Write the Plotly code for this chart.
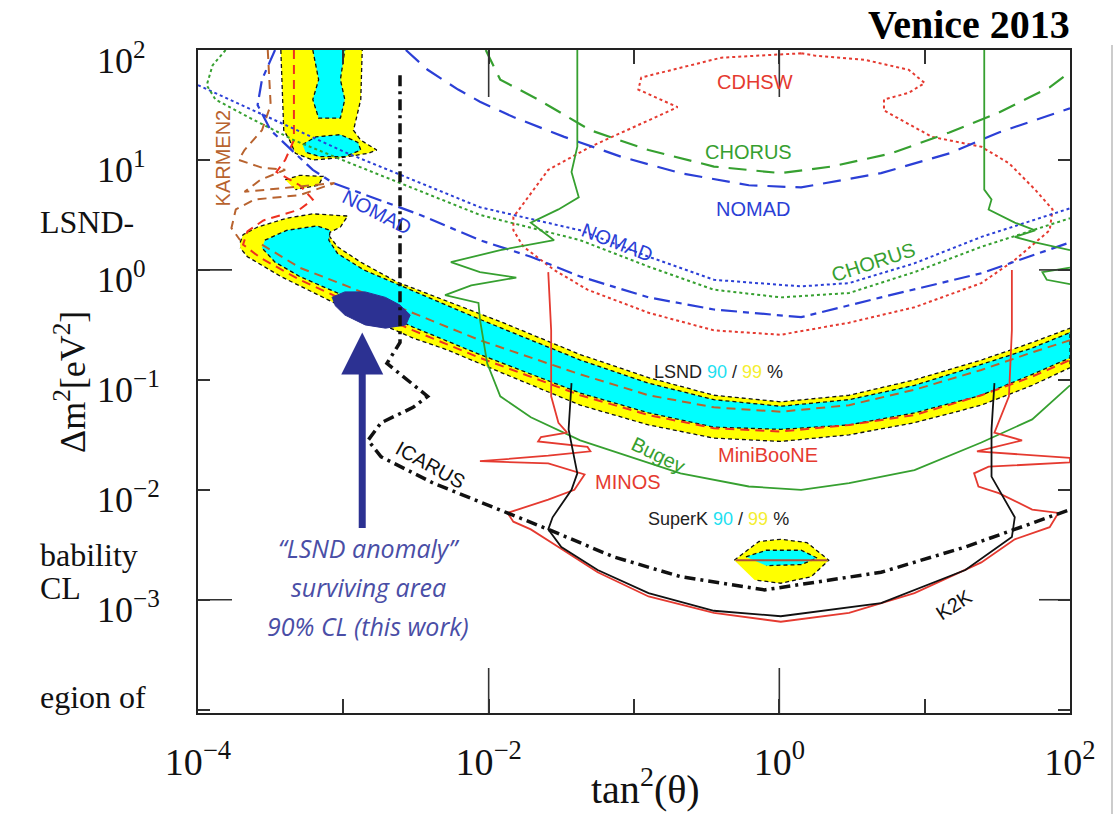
import numpy as np
import plotly.graph_objects as go

# ------------------------------------------------------------------
# Values: log10(tan^2 theta), log10(dm^2 / eV^2)
# ------------------------------------------------------------------
CDHSW_LX = [0.15, -0.40, -0.95, -0.97, -0.70, -1.30, -1.59, -1.83, -1.83, -1.76, -1.55, -1.32, -0.90, -0.45, 0.01,
            0.48, 0.93, 1.39, 1.62, 1.86, 1.88, 1.76, 1.58, 1.39, 1.05, 0.72, 0.72, 0.89, 1.00, 0.89, 0.59, 0.24, 0.15]
CDHSW_LY = [1.97, 1.93, 1.75, 1.64, 1.48, 1.12, 0.91, 0.48, 0.36, 0.21, 0.00, -0.18, -0.39, -0.55, -0.59,
            -0.48, -0.34, -0.12, 0.09, 0.36, 0.55, 0.73, 0.97, 1.12, 1.21, 1.45, 1.55, 1.61, 1.70, 1.82, 1.91, 1.95, 1.97]

CHORUS_DASH_LX = [-2.02, -1.92, -1.66, -1.30, -0.90, -0.45, 0.01, 0.36, 0.77, 1.17, 1.51, 1.86, 2.00]
CHORUS_DASH_LY = [2.00, 1.73, 1.55, 1.27, 1.09, 0.94, 0.88, 0.94, 1.06, 1.25, 1.43, 1.66, 1.80]

NOMAD_DASH_LX = [-2.57, -2.42, -2.21, -2.06, -1.83, -1.48, -1.09, -0.68, -0.21, 0.15, 0.70, 1.17, 1.51, 2.00]
NOMAD_DASH_LY = [2.00, 1.82, 1.64, 1.53, 1.39, 1.21, 1.03, 0.88, 0.77, 0.75, 0.88, 1.06, 1.25, 1.47]

NOMAD_DOT_LX = [-4.00, -2.97, -2.06, -1.37, -0.90, -0.45, 0.15, 0.48, 0.93, 1.39, 2.00]
NOMAD_DOT_LY = [1.68, 1.06, 0.57, 0.36, 0.12, -0.09, -0.15, -0.12, 0.06, 0.30, 0.56]

CHORUS_DOT_LX = [-3.81, -3.90, -3.94, -3.88, -3.64, -3.34, -2.97, -2.06, -1.37, -0.90, -0.45, 0.01, 0.48, 0.93, 1.39, 2.00]
CHORUS_DOT_LY = [2.00, 1.86, 1.68, 1.55, 1.38, 1.18, 0.98, 0.50, 0.27, 0.03, -0.18, -0.25, -0.21, -0.02, 0.21, 0.47]

NOMAD_DD_LX = [-3.47, -3.56, -3.59, -3.50, -3.34, -3.21, -3.07, -2.47, -2.06, -1.71, -1.37, -0.90, -0.45, 0.15, 0.70, 1.39, 2.00]
NOMAD_DD_LY = [2.00, 1.73, 1.50, 1.27, 1.07, 0.91, 0.79, 0.50, 0.27, 0.12, -0.06, -0.25, -0.36, -0.43, -0.25, -0.03, 0.25]

BUGEY_LX = [-1.39, -1.39, -1.43, -1.38, -1.52, -1.71, -1.55, -1.92, -2.26, -2.06, -1.81, -2.12, -2.30, -2.07, -2.06,
            -2.03, -2.01, -1.92, -1.71, -1.37, -1.02, -0.68, -0.21, 0.15, 0.48, 0.93, 1.39, 1.74, 2.00]
BUGEY_LY = [2.00, 1.12, 0.89, 0.66, 0.55, 0.43, 0.27, 0.18, 0.07, -0.02, -0.07, -0.14, -0.23, -0.30, -0.45,
            -0.68, -0.85, -1.15, -1.34, -1.55, -1.70, -1.85, -1.97, -2.00, -1.94, -1.82, -1.57, -1.36, -1.05]
BUGEY_R_LX = [1.41, 1.41, 1.41, 1.46, 1.44, 1.62, 1.76, 1.62, 1.76, 2.00]
BUGEY_R_LY = [2.00, 1.12, 0.73, 0.64, 0.55, 0.43, 0.36, 0.30, 0.25, 0.18]
BUGEY_E_LX = [2.00, 1.81, 1.84, 2.00]
BUGEY_E_LY = [0.02, -0.02, -0.09, -0.13]

MINOS_LX = [-1.59, -1.57, -1.57, -1.52, -1.46, -1.64, -1.66, -1.32, -1.30, -1.59, -2.06, -1.59, -1.34, -1.41,
            -1.59, -1.87, -1.83, -1.71, -1.52, -1.25, -0.90, -0.45, 0.01, 0.48, 0.93, 1.39, 1.62, 1.86, 1.92,
            1.74, 1.51, 1.37, 1.34, 1.44, 2.00, 2.00, 1.36, 1.67, 1.48, 1.58, 1.60, 1.60]
MINOS_LY = [-0.02, -0.55, -1.15, -1.39, -1.48, -1.52, -1.56, -1.61, -1.65, -1.69, -1.74, -1.76, -1.86, -2.00,
            -2.09, -2.21, -2.29, -2.36, -2.52, -2.75, -2.97, -3.12, -3.20, -3.12, -2.94, -2.66, -2.45, -2.34, -2.21,
            -2.18, -2.03, -1.97, -1.85, -1.79, -1.75, -1.71, -1.65, -1.55, -1.48, -1.15, -0.55, 0.00]

K2K_LX = [-1.43, -1.45, -1.39, -1.43, -1.56, -1.59, -1.50, -1.25, -0.90, -0.45, 0.01, 0.70, 1.28, 1.60, 1.62, 1.46, 1.46, 1.48]
K2K_LY = [-1.03, -1.45, -1.85, -2.00, -2.25, -2.36, -2.52, -2.73, -2.94, -3.10, -3.15, -3.03, -2.73, -2.43, -2.25, -1.88, -1.45, -1.03]

ICARUS_LX = [-2.61, -2.61, -2.70, -2.42, -2.52, -2.74, -2.83, -2.74, -2.38, -1.92, -1.59, -1.14, -0.68, -0.10, 0.70, 1.28, 1.62, 2.00]
ICARUS_LY = [1.77, -0.66, -0.85, -1.15, -1.25, -1.39, -1.55, -1.70, -1.94, -2.18, -2.36, -2.61, -2.79, -2.91, -2.75, -2.52, -2.36, -2.18]

KARMEN_LX = [-3.52, -3.50, -3.56, -3.68, -3.72, -3.56, -3.40, -3.57, -3.68, -3.37, -3.06, -3.30, -3.61, -3.74, -3.77, -3.71]
KARMEN_LY = [2.00, 1.50, 1.27, 1.09, 1.00, 0.93, 0.91, 0.82, 0.71, 0.75, 0.79, 0.68, 0.64, 0.55, 0.38, 0.27]

BAND_MID_LX = [-3.56, -3.30, -2.97, -2.52, -2.06, -1.37, -0.90, -0.45, 0.01, 0.48, 0.93, 1.39, 1.74, 2.00]
BAND_MID_LY = [0.23, 0.02, -0.15, -0.39, -0.64, -0.95, -1.14, -1.25, -1.29, -1.23, -1.09, -0.91, -0.75, -0.64]

RED_DASH_LX = [-3.34, -3.34, -3.40, -3.46, -3.30, -3.21, -3.30, -3.55, -3.66, -3.69, -3.57, -3.30, -2.97, -2.52,
               -2.06, -1.37, -0.90, -0.45, 0.01, 0.48, 0.93, 1.39, 1.74, 2.00]
RED_DASH_LY = [2.00, 1.18, 1.00, 0.89, 0.77, 0.64, 0.55, 0.45, 0.35, 0.23, 0.11, -0.09, -0.29, -0.55,
               -0.80, -1.14, -1.32, -1.44, -1.47, -1.41, -1.32, -1.14, -0.97, -0.82]

LSND99_LX = [-3.71, -3.69, -3.59, -3.39, -3.21, -2.97, -3.02, -3.11, -3.04, -2.88, -2.63, -2.28, -1.92, -1.37, -0.90,
             -0.45, 0.01, 0.48, 0.93, 1.39, 1.74, 2.00, 2.00, 1.74, 1.39, 0.93, 0.48, 0.01, -0.45, -0.90, -1.37,
             -1.92, -2.28, -2.52, -2.97, -3.43, -3.66, -3.71]
LSND99_LY = [0.25, 0.32, 0.39, 0.47, 0.51, 0.49, 0.39, 0.33, 0.21, 0.07, -0.11, -0.29, -0.47, -0.77, -0.98,
             -1.14, -1.20, -1.14, -1.00, -0.82, -0.66, -0.53, -0.89, -1.05, -1.23, -1.39, -1.50, -1.56, -1.53, -1.41,
             -1.23, -0.93, -0.73, -0.62, -0.36, -0.06, 0.12, 0.20]
LSND90_LX = [-3.54, -3.39, -3.18, -3.09, -3.10, -3.04, -2.86, -2.59, -2.06, -1.37, -0.90, -0.45, 0.01, 0.48, 0.93,
             1.39, 1.74, 2.00, 2.00, 1.74, 1.39, 0.93, 0.48, 0.01, -0.45, -0.90, -1.37, -2.06, -2.52, -2.97, -3.30,
             -3.47, -3.56]
LSND90_LY = [0.27, 0.36, 0.40, 0.36, 0.27, 0.15, 0.00, -0.15, -0.45, -0.82, -1.03, -1.18, -1.24, -1.18, -1.05,
             -0.86, -0.71, -0.57, -0.80, -0.95, -1.14, -1.30, -1.41, -1.45, -1.43, -1.30, -1.12, -0.77, -0.52, -0.25,
             -0.06, 0.07, 0.20]
ISL99_LX = [-3.43, -3.41, -3.37, -3.33, -3.21, -3.02, -2.83, -2.77, -2.88, -2.93, -2.88, -2.87]
ISL99_LY = [2.00, 1.27, 1.18, 1.06, 1.00, 1.02, 1.06, 1.09, 1.18, 1.27, 1.55, 2.00]
ISL90A_LX = [-3.21, -3.17, -3.21, -3.17, -3.02, -2.99, -3.02, -2.99]
ISL90A_LY = [2.00, 1.73, 1.55, 1.38, 1.38, 1.55, 1.73, 2.00]
ISL90B_LX = [-3.28, -3.19, -3.02, -2.90, -2.88, -2.99, -3.16, -3.26]
ISL90B_LY = [1.14, 1.21, 1.23, 1.16, 1.09, 1.03, 1.03, 1.07]
ISL99C_LX = [-3.40, -3.30, -3.14, -3.17, -3.33]
ISL99C_LY = [0.82, 0.86, 0.85, 0.77, 0.73]

SK99_LX = [-0.31, -0.14, 0.01, 0.19, 0.34, 0.22, 0.01, -0.17]
SK99_LY = [-2.64, -2.47, -2.45, -2.48, -2.64, -2.79, -2.85, -2.82]
SK90_LX = [-0.23, -0.09, 0.15, 0.26, 0.15, -0.09]
SK90_LY = [-2.61, -2.55, -2.55, -2.62, -2.68, -2.69]
SK_MID_LX = [-0.30, 0.33]
SK_MID_LY = [-2.64, -2.64]

SURVIVE_LX = [-3.08, -2.99, -2.85, -2.71, -2.61, -2.54, -2.57, -2.71, -2.85, -2.99, -3.06]
SURVIVE_LY = [-0.25, -0.20, -0.20, -0.25, -0.32, -0.41, -0.50, -0.53, -0.50, -0.41, -0.32]

ARROW_LX = -2.87
ARROW_TIP_LY = -0.57
ARROW_TAIL_LY = -2.36

# labels: text, log x, log y, colour key, angle
LABELS = [
    ("CDHSW", -0.17, 1.71, "red", 0),
    ("CHORUS", -0.21, 1.07, "green", 0),
    ("NOMAD", -0.18, 0.55, "blue", 0),
    ("NOMAD", -1.12, 0.25, "blue", 21),
    ("NOMAD", -2.77, 0.53, "blue", 27),
    ("CHORUS", 0.65, 0.07, "green", -18),
    ("KARMEN2", -3.83, 1.02, "brown", -90),
    ("Bugey", -0.83, -1.68, "green", 26),
    ("MiniBooNE", -0.08, -1.68, "red", 0),
    ("MINOS", -1.04, -1.93, "red", 0),
    ("K2K", 1.20, -3.05, "black", -33),
    ("ICARUS", -2.40, -1.77, "black", 29),
]
LSND_LABEL_POS = (-0.42, -0.93)
SK_LABEL_POS = (-0.42, -2.27)
ANOMALY_LINES = ["\u201cLSND anomaly\u201d", "surviving area", "90% CL (this work)"]
ANOMALY_LX = -2.83
ANOMALY_LY = [-2.53, -2.88, -3.24]

X_TICK_EXP = [-4, -3, -2, -1, 0, 1, 2]
X_LABEL_EXP = [-4, -2, 0, 2]
Y_TICK_EXP = [-4, -3, -2, -1, 0, 1, 2]
Y_LABEL_EXP = [-3, -2, -1, 0, 1, 2]
X_LONG = [-2, 0]
Y_LONG = [-3, 0]
X_RANGE = [-4.0, 2.0]
Y_RANGE = [-4.03, 2.0]

SLIDE_TEXT = [("LSND-", 222), ("bability", 555), ("CL", 588), ("egion of", 697)]

COL = {"red": "#e53a30", "green": "#36a030", "blue": "#2b3fd6", "brown": "#b8632f", "black": "#111111"}
YELLOW = "#ffff00"
CYAN = "#00ffff"
NAVY = "#2c3192"

W, H = 1118, 814
ML, MR, MT, MB = 198, 48, 50, 101
PW, PH = W - ML - MR, H - MT - MB


def pw(a):
    return np.power(10.0, np.asarray(a, dtype=float))


fig = go.Figure()


def add_area(lx, ly, fill, dash="4px,3px", lw=1.3, lc="#111111"):
    fig.add_trace(go.Scatter(x=pw(lx), y=pw(ly), mode="lines", fill="toself", fillcolor=fill,
                             line=dict(color=lc, width=lw, dash=dash), hoverinfo="skip", showlegend=False))


def add_line(lx, ly, color, width, dash="solid"):
    fig.add_trace(go.Scatter(x=pw(lx), y=pw(ly), mode="lines",
                             line=dict(color=color, width=width, dash=dash), hoverinfo="skip", showlegend=False))


# LSND allowed regions
add_area(LSND99_LX, LSND99_LY, YELLOW)
add_area(LSND90_LX, LSND90_LY, CYAN)
add_area(ISL99_LX, ISL99_LY, YELLOW)
add_area(ISL90A_LX, ISL90A_LY, CYAN)
add_area(ISL90B_LX, ISL90B_LY, CYAN)
add_area(ISL99C_LX, ISL99C_LY, YELLOW)
add_area(SK99_LX, SK99_LY, YELLOW)
add_area(SK90_LX, SK90_LY, CYAN)
add_line(SK_MID_LX, SK_MID_LY, "#b0503a", 2)
add_line(BAND_MID_LX, BAND_MID_LY, COL["brown"], 2, "9px,6px")
add_line(RED_DASH_LX, RED_DASH_LY, "#ee3020", 2, "9px,6px")
add_line(KARMEN_LX, KARMEN_LY, COL["brown"], 2, "9px,6px")

# exclusion curves
add_line(CDHSW_LX, CDHSW_LY, COL["red"], 2, "dot")
add_line(CHORUS_DASH_LX, CHORUS_DASH_LY, COL["green"], 2.2, "18px,10px")
add_line(NOMAD_DASH_LX, NOMAD_DASH_LY, COL["blue"], 2.2, "18px,10px")
add_line(NOMAD_DOT_LX, NOMAD_DOT_LY, COL["blue"], 2, "dot")
add_line(CHORUS_DOT_LX, CHORUS_DOT_LY, COL["green"], 2, "dot")
add_line(NOMAD_DD_LX, NOMAD_DD_LY, COL["blue"], 2.2, "16px,6px,6px,6px")
add_line(BUGEY_LX, BUGEY_LY, COL["green"], 1.8)
add_line(BUGEY_R_LX, BUGEY_R_LY, COL["green"], 1.8)
add_line(BUGEY_E_LX, BUGEY_E_LY, COL["green"], 1.8)
add_line(MINOS_LX, MINOS_LY, COL["red"], 1.8)
add_line(K2K_LX, K2K_LY, "#111111", 1.8)

# surviving area
fig.add_trace(go.Scatter(x=pw(SURVIVE_LX), y=pw(SURVIVE_LY), mode="lines", fill="toself", fillcolor=NAVY,
                         line=dict(color=NAVY, width=1), hoverinfo="skip", showlegend=False))
add_line(ICARUS_LX, ICARUS_LY, "#111111", 3.5, "11px,5px,3px,5px")

ann = []
for text, lx, ly, ck, ang in LABELS:
    ann.append(dict(x=lx, y=ly, xref="x", yref="y", text=text, showarrow=False, textangle=ang,
                    font=dict(family="Liberation Sans, Arial", size=20, color=COL[ck]),
                    xanchor="center", yanchor="middle"))

ann.append(dict(x=LSND_LABEL_POS[0], y=LSND_LABEL_POS[1], xref="x", yref="y", showarrow=False,
                xanchor="center", yanchor="middle",
                text='LSND <span style="color:#22e0f0">90</span> / <span style="color:#f4ee30">99</span> %',
                font=dict(family="Liberation Sans, Arial", size=18, color="#222222")))
ann.append(dict(x=SK_LABEL_POS[0], y=SK_LABEL_POS[1], xref="x", yref="y", showarrow=False,
                xanchor="center", yanchor="middle",
                text='SuperK <span style="color:#22e0f0">90</span> / <span style="color:#f4ee30">99</span> %',
                font=dict(family="Liberation Sans, Arial", size=18, color="#222222")))

for line, ly in zip(ANOMALY_LINES, ANOMALY_LY):
    ann.append(dict(x=ANOMALY_LX, y=ly, xref="x", yref="y", showarrow=False, text="<i>" + line + "</i>",
                    xanchor="center", yanchor="middle",
                    font=dict(family="Open Sans", size=25, color="#4a4ea6")))

# arrow
ann.append(dict(x=ARROW_LX, y=ARROW_TIP_LY, xref="x", yref="y", ax=ARROW_LX, ay=ARROW_TAIL_LY,
                axref="x", ayref="y", showarrow=True, arrowhead=2, arrowsize=1.2, arrowwidth=7,
                arrowcolor=NAVY, text="", standoff=0))

# y tick labels (left aligned)
for k in Y_LABEL_EXP:
    s = str(k).replace("-", "\u2212")
    ann.append(dict(x=(95 - ML) / PW, y=k, xref="paper", yref="y", xanchor="left", yanchor="middle",
                    yshift=-8, showarrow=False, text="10<sup>%s</sup>" % s,
                    font=dict(family="Liberation Serif", size=36, color="#111111")))

# axis titles and title
ann.append(dict(x=(70 - ML) / PW, y=(H - MB - 382) / PH, xref="paper", yref="paper", showarrow=False,
                textangle=-90, xanchor="center", yanchor="middle",
                text="\u0394m<sup>2</sup>[eV<sup>2</sup>]",
                font=dict(family="Liberation Serif", size=36, color="#111111")))
ann.append(dict(x=(645 - ML) / PW, y=-(786 - (H - MB)) / PH, xref="paper", yref="paper", showarrow=False,
                text="tan<sup>2</sup>(\u03b8)", xanchor="center", yanchor="middle",
                font=dict(family="Liberation Serif", size=40, color="#111111")))
ann.append(dict(x=(1072 - ML) / PW, y=1 + (MT - 25) / PH, xref="paper", yref="paper", showarrow=False,
                xanchor="right", yanchor="middle", text="<b>Venice 2013</b>",
                font=dict(family="Liberation Serif", size=40, color="#000000")))

for t, py in SLIDE_TEXT:
    ann.append(dict(x=(38 - ML) / PW, y=(H - MB - py) / PH, xref="paper", yref="paper", showarrow=False,
                    xanchor="left", yanchor="middle", text=t,
                    font=dict(family="Liberation Serif", size=32, color="#111111")))

shapes = []
xr = X_RANGE[1] - X_RANGE[0]
yr = Y_RANGE[1] - Y_RANGE[0]
for k in X_LONG:
    px = (k - X_RANGE[0]) / xr
    shapes.append(dict(type="line", xref="paper", yref="paper", x0=px, x1=px, y0=0, y1=45 / PH,
                       line=dict(color="#333333", width=1.6)))
    shapes.append(dict(type="line", xref="paper", yref="paper", x0=px, x1=px, y0=1, y1=1 - 47 / PH,
                       line=dict(color="#333333", width=1.6)))
for k in Y_LONG:
    py = (k - Y_RANGE[0]) / yr
    shapes.append(dict(type="line", xref="paper", yref="paper", x0=0, x1=34 / PW, y0=py, y1=py,
                       line=dict(color="#333333", width=1.6)))
    shapes.append(dict(type="line", xref="paper", yref="paper", x0=1, x1=1 - 31 / PW, y0=py, y1=py,
                       line=dict(color="#333333", width=1.6)))
shapes.append(dict(type="line", xref="paper", yref="paper", x0=(1112 - ML) / PW, x1=(1112 - ML) / PW,
                   y0=1 + 5 / PH, y1=-MB / PH, line=dict(color="#bbbbbb", width=1.5)))

x_ticktext = []
for k in X_TICK_EXP:
    if k in X_LABEL_EXP:
        x_ticktext.append("10<sup>%s</sup>" % str(k).replace("-", "\u2212"))
    else:
        x_ticktext.append(" ")

fig.update_layout(
    width=W, height=H,
    margin=dict(l=ML, r=MR, t=MT, b=MB),
    paper_bgcolor="white", plot_bgcolor="white",
    showlegend=False,
    annotations=ann, shapes=shapes,
    xaxis=dict(type="log", range=X_RANGE, showgrid=False, zeroline=False, showline=True, mirror="ticks",
               linecolor="#222222", linewidth=2, ticks="inside", ticklen=14, tickwidth=1.5, tickcolor="#333333",
               tickvals=list(pw(X_TICK_EXP)), ticktext=x_ticktext, ticklabelstandoff=14,
               tickfont=dict(family="Liberation Serif", size=38, color="#111111")),
    yaxis=dict(type="log", range=Y_RANGE, showgrid=False, zeroline=False, showline=True, mirror="ticks",
               linecolor="#222222", linewidth=2, ticks="inside", ticklen=12, tickwidth=1.5, tickcolor="#333333",
               tickvals=list(pw(Y_TICK_EXP)), showticklabels=False),
)

fig.write_html("out.html", include_plotlyjs=True, config={"displayModeBar": False})
